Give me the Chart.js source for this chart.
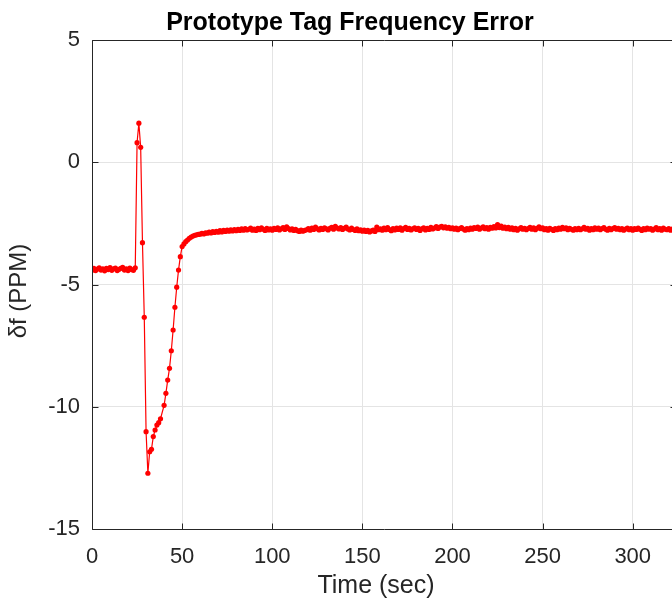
<!DOCTYPE html>
<html>
<head>
<meta charset="utf-8">
<script src="https://cdn.jsdelivr.net/npm/chart.js@4.4.1/dist/chart.umd.min.js"></script>
<style>
  html, body { margin: 0; padding: 0; background: #ffffff; overflow: hidden; }
  #wrap { width: 700px; height: 600px; }
</style>
</head>
<body>
<div id="wrap"><canvas id="c" width="700" height="600"></canvas></div>
<script>
// ---- data ----
const chartTitle = "Prototype Tag Frequency Error";
const xLabel = "Time (sec)";
const yLabel = "\u03B4f (PPM)";
const xTicks = [0, 50, 100, 150, 200, 250, 300];
const yTicks = [-15, -10, -5, 0, 5];

const times = [
  0,1,2,3,4,5,6,7,8,9,
  10,11,12,13,14,15,16,17,18,19,
  20,21,22,23,24,
  25,26,27,28,29,
  30,31,32,33,34,35,36,37,38,
  40,41,42,43,44,45,46,47,48,49,
  50,51,52,53,54,55,56,57,58,59,
  60,61,62,63,64,65,66,67,68,69,
  70,71,72,73,74,75,76,77,78,79,
  80,81,82,83,84,85,86,87,88,89,
  90,91,92,93,94,95,96,97,98,99,
  100,101,102,103,104,105,106,107,108,109,
  110,111,112,113,114,115,116,117,118,119,
  120,121,122,123,124,125,126,127,128,129,
  130,131,132,133,134,135,136,137,138,139,
  140,141,142,143,144,145,146,147,148,149,
  150,151,152,153,154,155,156,157,158,159,
  160,161,162,163,164,165,166,167,168,169,
  170,171,172,173,174,175,176,177,178,179,
  180,181,182,183,184,185,186,187,188,189,
  190,191,192,193,194,195,196,197,198,199,
  200,201,202,203,204,205,206,207,208,209,
  210,211,212,213,214,215,216,217,218,219,
  220,221,222,223,224,225,226,227,228,229,
  230,231,232,233,234,235,236,237,238,239,
  240,241,242,243,244,245,246,247,248,249,
  250,251,252,253,254,255,256,257,258,259,
  260,261,262,263,264,265,266,267,268,269,
  270,271,272,273,274,275,276,277,278,279,
  280,281,282,283,284,285,286,287,288,289,
  290,291,292,293,294,295,296,297,298,299,
  300,301,302,303,304,305,306,307,308,309,
  310,311,312,313,314,315,316,317,318,319,
  320,321,322,323,324,325
];

const freqError = [
  -4.42,-4.34,-4.43,-4.37,-4.32,-4.41,-4.36,-4.44,-4.34,-4.39,
  -4.31,-4.42,-4.36,-4.33,-4.43,-4.38,-4.34,-4.30,-4.41,-4.36,
  -4.43,-4.33,-4.39,-4.42,-4.32,
  0.80,1.60,0.61,-3.29,-6.34,
  -11.02,-12.72,-11.84,-11.74,-11.22,-10.95,-10.75,-10.65,-10.49,
  -9.94,-9.45,-8.91,-8.43,-7.71,-6.86,-5.93,-5.11,-4.41,-3.86,
  -3.45,-3.34,-3.25,-3.18,-3.11,-3.06,-3.02,-2.99,-2.97,-2.95,
  -2.94,-2.91,-2.93,-2.89,-2.90,-2.86,-2.89,-2.84,-2.87,-2.83,
  -2.86,-2.80,-2.85,-2.79,-2.83,-2.77,-2.82,-2.76,-2.81,-2.75,
  -2.80,-2.74,-2.79,-2.72,-2.78,-2.71,-2.77,-2.74,-2.69,-2.78,
  -2.73,-2.79,-2.70,-2.76,-2.68,-2.74,-2.79,-2.70,-2.77,-2.72,
  -2.78,-2.70,-2.75,-2.68,-2.77,-2.72,-2.67,-2.75,-2.64,-2.71,
  -2.77,-2.72,-2.79,-2.74,-2.80,-2.83,-2.78,-2.82,-2.79,-2.76,
  -2.71,-2.78,-2.69,-2.75,-2.65,-2.72,-2.77,-2.70,-2.75,-2.68,
  -2.72,-2.77,-2.70,-2.66,-2.74,-2.62,-2.69,-2.73,-2.67,-2.75,
  -2.70,-2.65,-2.73,-2.77,-2.69,-2.75,-2.79,-2.72,-2.80,-2.76,
  -2.82,-2.77,-2.83,-2.79,-2.85,-2.81,-2.77,-2.83,-2.65,-2.76,
  -2.72,-2.78,-2.69,-2.76,-2.67,-2.75,-2.80,-2.71,-2.77,-2.69,
  -2.75,-2.68,-2.78,-2.71,-2.66,-2.75,-2.70,-2.77,-2.72,-2.68,
  -2.75,-2.70,-2.79,-2.72,-2.68,-2.77,-2.70,-2.75,-2.66,-2.73,
  -2.69,-2.63,-2.71,-2.65,-2.62,-2.68,-2.64,-2.70,-2.66,-2.72,
  -2.68,-2.74,-2.69,-2.76,-2.71,-2.67,-2.73,-2.78,-2.71,-2.76,
  -2.69,-2.74,-2.67,-2.71,-2.65,-2.74,-2.69,-2.64,-2.72,-2.67,
  -2.74,-2.66,-2.70,-2.63,-2.69,-2.55,-2.67,-2.61,-2.70,-2.65,
  -2.72,-2.66,-2.74,-2.68,-2.76,-2.70,-2.78,-2.72,-2.67,-2.74,
  -2.70,-2.76,-2.71,-2.66,-2.74,-2.68,-2.76,-2.70,-2.64,-2.72,
  -2.68,-2.76,-2.71,-2.78,-2.70,-2.74,-2.79,-2.71,-2.76,-2.69,
  -2.74,-2.66,-2.72,-2.68,-2.76,-2.70,-2.74,-2.78,-2.71,-2.76,
  -2.70,-2.76,-2.72,-2.66,-2.74,-2.70,-2.78,-2.71,-2.76,-2.68,
  -2.74,-2.69,-2.76,-2.71,-2.67,-2.74,-2.78,-2.70,-2.76,-2.71,
  -2.67,-2.74,-2.70,-2.76,-2.71,-2.78,-2.73,-2.69,-2.76,-2.71,
  -2.78,-2.71,-2.75,-2.69,-2.74,-2.79,-2.71,-2.76,-2.69,-2.74,
  -2.71,-2.78,-2.73,-2.67,-2.76,-2.71,-2.78,-2.69,-2.74,-2.76,
  -2.71,-2.78,-2.73,-2.68,-2.76,-2.71
];

const xMin = 0, xMax = 324;
const yMin = -15, yMax = 5;

// ---- styling ----
const FONT = "'Liberation Sans', Arial, Helvetica, sans-serif";
const AXIS_COLOR = '#262626';
const GRID_COLOR = '#e4e4e4';
const LINE_COLOR = '#ff0000';

const points = times.map((t, i) => ({ x: t, y: freqError[i] }));

// box with inward ticks + axis labels (MATLAB/Octave look)
const boxPlugin = {
  id: 'boxPlugin',
  afterDraw(chart) {
    const { ctx, chartArea: a, scales } = chart;
    const L = Math.round(a.left) + 0.5, R = Math.round(a.right) + 0.5;
    const T = Math.round(a.top) + 0.5, B = Math.round(a.bottom) + 0.5;
    ctx.save();
    ctx.strokeStyle = AXIS_COLOR;
    ctx.lineWidth = 1;
    ctx.beginPath();
    ctx.rect(L, T, R - L, B - T);
    const tl = 6;
    scales.x.ticks.forEach(tk => {
      const px = Math.round(scales.x.getPixelForValue(tk.value)) + 0.5;
      ctx.moveTo(px, B); ctx.lineTo(px, B - tl);
      ctx.moveTo(px, T); ctx.lineTo(px, T + tl);
    });
    scales.y.ticks.forEach(tk => {
      const py = Math.round(scales.y.getPixelForValue(tk.value)) + 0.5;
      ctx.moveTo(L, py); ctx.lineTo(L + tl, py);
      ctx.moveTo(R, py); ctx.lineTo(R - tl, py);
    });
    ctx.stroke();

    // axis labels
    ctx.fillStyle = AXIS_COLOR;
    ctx.textAlign = 'center';
    ctx.textBaseline = 'middle';
    ctx.font = "25px " + FONT;
    ctx.fillText(xLabel, 376, 586);
    ctx.translate(19, 291);
    ctx.rotate(-Math.PI / 2);
    ctx.font = "24px " + FONT;
    ctx.fillText(yLabel, 0, 0);
    ctx.restore();
  }
};

new Chart(document.getElementById('c'), {
  type: 'line',
  data: {
    datasets: [{
      label: 'freq error',
      data: points,
      borderColor: LINE_COLOR,
      backgroundColor: LINE_COLOR,
      borderWidth: 1.2,
      pointRadius: 2.6,
      pointBorderWidth: 0,
      pointBackgroundColor: LINE_COLOR,
      tension: 0,
      fill: false
    }]
  },
  options: {
    responsive: false,
    animation: false,
    devicePixelRatio: 1,
    layout: { padding: 0 },
    plugins: {
      legend: { display: false },
      tooltip: { enabled: false },
      title: {
        display: true,
        text: chartTitle,
        color: '#000000',
        font: { family: FONT, size: 25, weight: 'bold', lineHeight: 1.2 },
        padding: { top: 8.5, bottom: 1.5 }
      }
    },
    scales: {
      x: {
        type: 'linear',
        min: xMin, max: xMax,
        afterFit(scale) { scale.height = 71; },
        afterBuildTicks(scale) { scale.ticks = xTicks.map(v => ({ value: v })); },
        ticks: {
          includeBounds: false,
          color: AXIS_COLOR,
          font: { family: FONT, size: 22 },
          padding: 15,
          maxRotation: 0,
          autoSkip: false
        },
        grid: { color: GRID_COLOR, drawTicks: false, lineWidth: 1 },
        border: { display: false }
      },
      y: {
        type: 'linear',
        min: yMin, max: yMax,
        afterFit(scale) { scale.width = 92; },
        afterBuildTicks(scale) { scale.ticks = yTicks.map(v => ({ value: v })); },
        ticks: {
          includeBounds: false,
          color: AXIS_COLOR,
          font: { family: FONT, size: 22 },
          padding: 12,
          autoSkip: false
        },
        grid: { color: GRID_COLOR, drawTicks: false, lineWidth: 1 },
        border: { display: false }
      },
      yR: {
        type: 'linear',
        position: 'right',
        min: yMin, max: yMax,
        afterFit(scale) { scale.width = 24; },
        ticks: { display: false },
        grid: { display: false, drawOnChartArea: false, drawTicks: false },
        border: { display: false }
      }
    }
  },
  plugins: [boxPlugin]
});
</script>
</body>
</html>
